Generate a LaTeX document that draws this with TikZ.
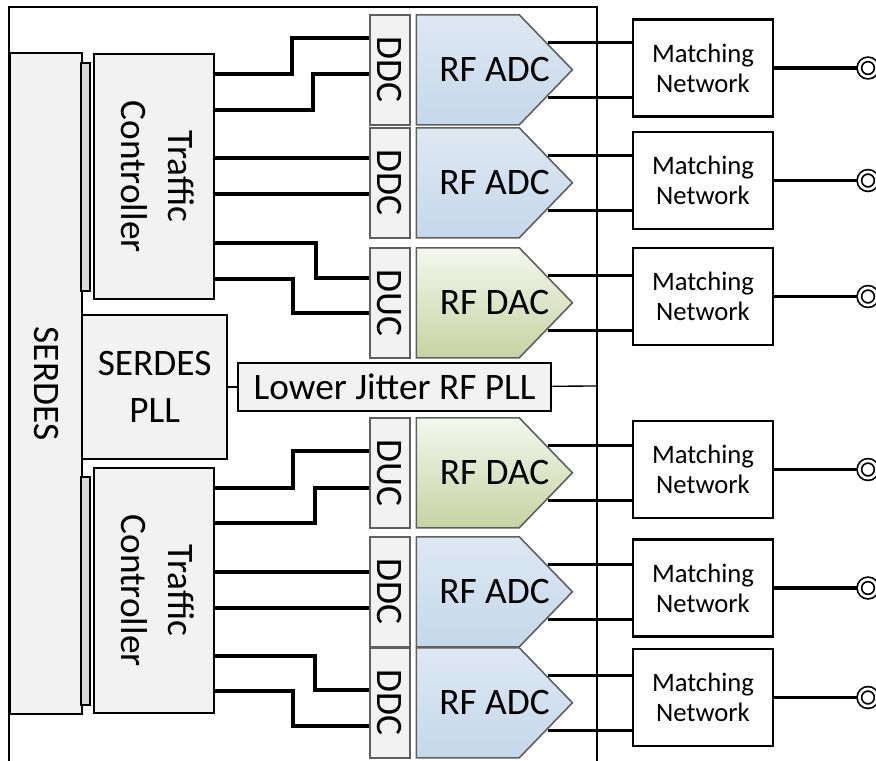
\documentclass[tikz,border=0pt]{standalone}
\usepackage{fontspec}
\setmainfont{Carlito}
\usetikzlibrary{positioning,shapes.symbols,calc}
\definecolor{boxgray}{HTML}{F2F2F2}
\definecolor{bargray}{HTML}{D9D9D9}
\definecolor{convgray}{HTML}{606060}
\definecolor{adctop}{HTML}{DEE8F3}
\definecolor{adcbot}{HTML}{C5D8EA}
\definecolor{dactop}{HTML}{F5F7EF}
\definecolor{dacbot}{HTML}{C6D3A2}

\begin{document}
\begin{tikzpicture}[
  x=0.75pt, y=-0.75pt,
  blk/.style={rectangle,draw,line width=1.7pt,fill=boxgray,inner sep=0pt,font=\fontsize{28}{35.5}\selectfont},
  bar/.style={rectangle,draw,line width=1.5pt,fill=bargray,minimum width=6.75pt,minimum height=171pt,inner sep=0pt},
  xdc/.style={rectangle,draw=convgray,line width=1.2pt,fill=boxgray,minimum width=30pt,minimum height=82.5pt,inner sep=0pt,font=\fontsize{28}{30}\selectfont},
  conv/.style={signal,signal to=east,signal pointer angle=92,draw=convgray,line width=1.2pt,minimum width=117pt,minimum height=82.5pt,inner sep=0pt},
  convtxt/.style={inner sep=0pt,font=\fontsize{28}{30}\selectfont},
  match/.style={rectangle,draw,line width=1.9pt,fill=white,minimum width=105pt,minimum height=72.75pt,inner sep=0pt,align=center,font=\fontsize{20}{22.5}\selectfont},
  term/.style={circle,draw,double,double distance=2pt,line width=1.3pt,fill=white,minimum size=13pt,inner sep=0pt},
  wire/.style={line width=2.5pt},
  frame/.style={line width=1pt}
]
\useasboundingbox (0,0) rectangle (876,761);
\draw[frame] (9,761) -- (9,7) -- (597,7) -- (597,761);

\node[blk, anchor=north west, minimum width=54pt, minimum height=495.75pt] (serdes) at (9,52) {\rotatebox{-90}{SERDES}};
\node[blk, anchor=north west, minimum width=90pt, minimum height=183.75pt] (tc1) at (93,53) {\rotatebox{-90}{\begin{tabular}{@{}c@{}}Traffic\\Controller\end{tabular}}};
\node[blk, anchor=north west, minimum width=90pt, minimum height=183.75pt] (tc2) at (93,467) {\rotatebox{-90}{\begin{tabular}{@{}c@{}}Traffic\\Controller\end{tabular}}};
\node[bar, left=1.5pt of tc1] (bar1) {};
\node[bar, left=1.5pt of tc2] (bar2) {};
\node[blk, anchor=north west, minimum width=108.75pt, minimum height=108pt, align=center] (pll) at (81,314) {SERDES\\PLL};
\node[blk, anchor=north west, minimum width=234.75pt, minimum height=36pt] (rfpll) at (237,362) {Lower Jitter RF PLL};
\coordinate (edge) at (597,386);
\draw[frame] (pll) -- (rfpll);
\draw[frame] (rfpll) -- (edge);

\foreach \i/\ytop/\kind/\cname/\cl in {1/14/DDC/ADC/adc,2/127/DDC/ADC/adc,3/247/DUC/DAC/dac,4/417/DUC/DAC/dac,5/536/DDC/ADC/adc,6/647/DDC/ADC/adc}{
  \node[xdc, anchor=north west] (cv\i) at (369,\ytop) {\rotatebox{-90}{\kind}};
  \node[conv, top color=\cl top, bottom color=\cl bot, right=3.75pt of cv\i] (ad\i) {};
  \node[convtxt] (lb\i) at ($(ad\i.west)!0.5!(ad\i.east)$) {RF \cname};
}

\foreach \i/\yc in {1/68,2/180.5,3/296.5,4/469.5,5/588,6/697.5}{
  \node[match] (mn\i) at (703,\yc) {Matching\\Network};
  \node[term] (out\i) at (868,\yc) {};
  \draw[wire] (mn\i) -- (out\i);
  \path ($(ad\i.east)+(-26,-27.5)$) coordinate (hi\i) ($(ad\i.east)+(-26,27.5)$) coordinate (lo\i);
  \draw[wire] (hi\i) -- (hi\i -| mn\i.west);
  \draw[wire] (lo\i) -- (lo\i -| mn\i.west);
}

\foreach \a/\ya/\xj/\b/\yb in {tc1/74/292/cv1/38, tc1/110/313/cv1/74, tc1/158/300/cv2/158, tc1/194/300/cv2/194, tc1/243/316/cv3/278, tc1/279/293/cv3/313, tc2/488/293/cv4/451, tc2/523/315/cv4/488, tc2/572/300/cv5/572, tc2/608/300/cv5/608, tc2/656/315/cv6/690, tc2/691/293/cv6/726}
  \draw[wire] (\a.east |- 0,\ya) -| (\xj,\yb) -- (\b.west |- 0,\yb);
\end{tikzpicture}
\end{document}
